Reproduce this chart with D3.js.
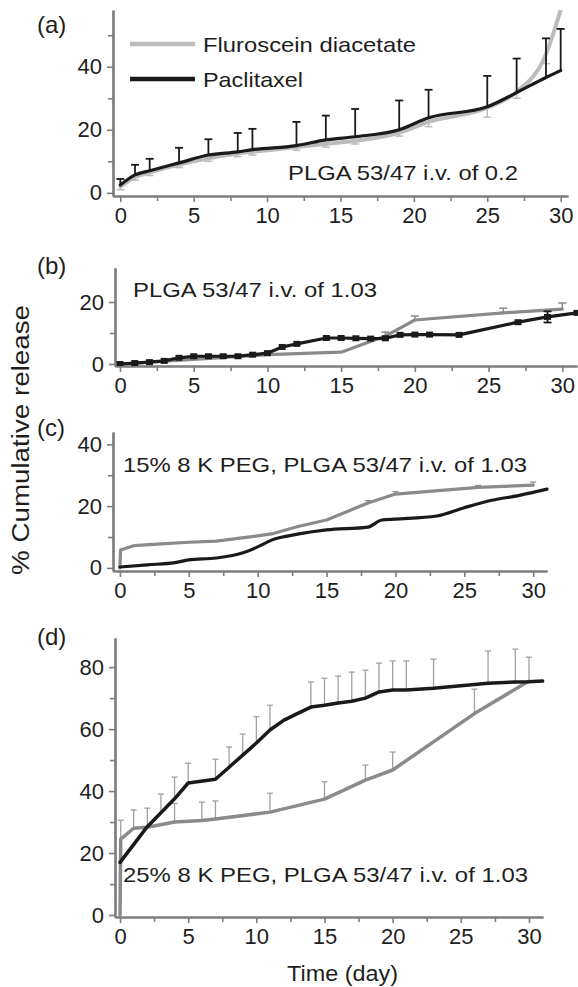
<!DOCTYPE html>
<html>
<head>
<meta charset="UTF-8">
<script src="https://d3js.org/d3.v7.min.js"></script>
<style>
  body { margin: 0; background: #fff; }
  svg { display: block; font-family: "Liberation Sans", Arial, sans-serif; }
</style>
</head>
<body>
<svg width="578" height="987"></svg>
<script>
// ---- data ----
const xMajor = [0, 5, 10, 15, 20, 25, 30];
const xMinor = [2.5, 7.5, 12.5, 17.5, 22.5, 27.5];

// (a) PLGA 53/47 i.v. 0.2
const aDays   = [0, 1, 2, 4, 6, 8, 9, 12, 14, 16, 19, 21, 25, 27, 29, 30];
const aPac    = [2.5, 5.7, 7, 9.5, 12, 13, 13.7, 15, 16.8, 17.8, 20, 23.8, 27.3, 31.8, 36.6, 38.8];
const aPacErr = [1.9, 3.2, 3.8, 4.8, 5, 6, 6.6, 7.5, 7.7, 8.8, 9.3, 8.9, 9.8, 10.8, 12.4, 13.2];
const aFlu    = [2, 5, 6.5, 9, 11, 12.5, 13, 14.5, 15.5, 16.5, 19, 22.5, 27, 32, 44, 58];
const aFluErr = [1, 1, 1, 1, 1, 1, 1, 1, 1, 1, 1, 1.5, 3, 2, 3, 0];

// (b) PLGA 53/47 i.v. 1.03
const bPacDays = [0, 1, 2, 3, 4, 5, 6, 7, 8, 9, 10, 11, 12, 14, 15, 16, 17, 18, 19, 20, 21, 23, 27, 29, 31];
const bPac     = [0, 0.3, 0.6, 1, 2, 2.5, 2.5, 2.5, 2.5, 3, 3.5, 5.5, 6.5, 8.4, 8.4, 8.3, 8.2, 8.3, 9.4, 9.5, 9.5, 9.4, 13.5, 15.2, 16.5];
const bPacErr  = [0, 0, 0, 0, 0, 0, 0, 0, 0, 0, 0, 0, 0, 0, 0, 0, 0, 0, 0, 0, 0, 0, 0, 1.8, 0];
const bFluDays = [0, 5, 10, 15, 18, 20, 26, 30];
const bFlu     = [0, 1.5, 3, 3.8, 9, 14.2, 16.5, 17.7];
const bFluErr  = [0, 0, 0, 0, 1.3, 1.3, 1.5, 2];

// (c) 15% 8K PEG
const cPacDays = [0, 2, 4, 5, 7, 9, 10, 11, 13, 15, 18, 19, 20, 23, 25, 27, 29, 31];
const cPac     = [0.3, 1, 1.7, 2.6, 3.2, 5, 6.8, 9, 11, 12.3, 13.2, 15.5, 15.8, 16.8, 19.5, 21.9, 23.5, 25.5];
const cFluDays = [0, 0.05, 1, 3, 5, 7, 9, 11, 13, 15, 18, 20, 26, 30];
const cFlu     = [0, 5.8, 7.2, 7.8, 8.3, 8.7, 9.8, 11, 13.5, 15.5, 21, 23.9, 26.1, 26.8];
const cFluErr  = [0, 0, 0, 0, 0, 0, 0, 0, 0, 0, 0.8, 0.8, 0.6, 1];

// (d) 25% 8K PEG
const dPacDays = [0, 2, 3, 4, 5, 7, 8, 9, 10, 11, 12, 13, 14, 15, 16, 17, 18, 19, 20, 21, 23, 27, 29, 30, 31];
const dPac     = [17, 28.5, 33, 37.5, 42.6, 43.8, 47.7, 51.6, 55.5, 59.7, 62.8, 65, 67.1, 67.7, 68.4, 69, 70, 72, 72.6, 72.6, 73.2, 74.8, 75.2, 75.3, 75.5];
const dPacErr  = [0, 6, 6, 7, 6.4, 6.5, 6.5, 6.8, 8.5, 8, 0, 0, 8.1, 8.7, 8.7, 9.4, 9, 9.3, 9.4, 9.4, 9.4, 10.4, 10.6, 7.9, 0];
const dFluDays = [0, 0.05, 1, 2, 4, 6, 7, 11, 15, 18, 20, 26, 30];
const dFlu     = [0, 24.5, 28, 28.3, 30, 30.5, 31, 33.2, 37.4, 43.5, 46.8, 65, 75.5];
const dFluErr  = [0, 6.1, 5.9, 0, 6, 5.9, 5.8, 6.1, 5.6, 4.9, 5.8, 7.9, 0];

// ---- drawing ----
const svg = d3.select("svg");
const AXIS = "#7d7d7d", BLACK = "#1a1a1a", GRAY_A = "#bcbcbc", GRAY = "#8a8a8a", TXT = "#1e1e1e";

function drawPanel(p) {
  const x = d3.scaleLinear().domain(p.xd).range(p.xr);
  const y = d3.scaleLinear().domain(p.yd).range(p.yr);
  const g = svg.append("g");
  const clipId = "clip-" + p.name;
  g.append("clipPath").attr("id", clipId).append("rect")
    .attr("x", p.xr[0]).attr("y", p.yr[1])
    .attr("width", p.xr[1] - p.xr[0] + 4).attr("height", p.yr[0] - p.yr[1]);

  // axes: minor ticks first, then major with labels
  const xa = g.append("g").attr("transform", `translate(0,${p.yr[0]})`);
  xa.append("g").call(d3.axisBottom(x).tickValues(xMinor).tickSize(5).tickFormat("").tickSizeOuter(0));
  xa.append("g").call(d3.axisBottom(x).tickValues(xMajor).tickSize(6).tickPadding(5).tickSizeOuter(0));
  const ya = g.append("g").attr("transform", `translate(${p.xr[0]},0)`);
  ya.append("g").call(d3.axisLeft(y).tickValues(p.yMinor).tickSize(5).tickFormat("").tickSizeOuter(0));
  ya.append("g").call(d3.axisLeft(y).tickValues(p.yMajor).tickSize(6).tickPadding(5).tickSizeOuter(0));
  g.selectAll(".domain").attr("stroke", AXIS).attr("stroke-width", 2.2);
  g.selectAll(".tick line").attr("stroke", AXIS).attr("stroke-width", 1.6);
  g.selectAll(".tick text").attr("fill", TXT).attr("font-size", 22)
    .attr("font-family", "Liberation Sans, Arial, sans-serif");

  const plot = g.append("g").attr("clip-path", `url(#${clipId})`);

  p.series.forEach(s => {
    const pts = s.days.map((d, i) => ({ d, v: s.vals[i], e: s.errs ? s.errs[i] : 0 }));
    // error bars
    const eb = plot.append("g").attr("stroke", s.errColor).attr("stroke-width", s.errWidth);
    pts.filter(q => q.e > 0).forEach(q => {
      const dirs = s.errDir === "both" ? [1, -1] : [s.errDir === "down" ? -1 : 1];
      dirs.forEach(k => {
        const y2 = y(q.v + k * q.e);
        eb.append("line").attr("x1", x(q.d)).attr("x2", x(q.d)).attr("y1", y(q.v)).attr("y2", y2);
        eb.append("line").attr("x1", x(q.d) - s.cap).attr("x2", x(q.d) + s.cap).attr("y1", y2).attr("y2", y2);
      });
    });
    const line = d3.line().x(q => x(q.d)).y(q => y(q.v)).curve(s.curve || d3.curveLinear);
    plot.append("path").datum(pts).attr("d", line)
      .attr("fill", "none").attr("stroke", s.color).attr("stroke-width", s.width)
      .attr("stroke-linejoin", "round").attr("stroke-linecap", "round");
    if (s.markers) {
      plot.selectAll(null).data(pts).join("rect")
        .attr("x", q => x(q.d) - 3.5).attr("y", q => y(q.v) - 3)
        .attr("width", 7).attr("height", 6).attr("fill", s.color);
    }
  });
  return { x, y, g };
}

function label(txt, xx, yy, size, len) {
  const t = svg.append("text").attr("x", xx).attr("y", yy).attr("font-size", size)
    .attr("fill", TXT).text(txt);
  if (len) t.attr("textLength", len).attr("lengthAdjust", "spacingAndGlyphs");
  return t;
}

// (a)
drawPanel({
  name: "a", xd: [-0.5, 30.5], xr: [113, 568], yd: [-1, 58], yr: [196, 10],
  yMajor: [0, 20, 40], yMinor: [10, 30, 50],
  series: [
    { days: aDays, vals: aFlu, errs: aFluErr, errDir: "down", errColor: GRAY_A, errWidth: 1.5, cap: 4,
      color: GRAY_A, width: 4, curve: d3.curveMonotoneX },
    { days: aDays, vals: aPac, errs: aPacErr, errDir: "up", errColor: BLACK, errWidth: 1.8, cap: 4,
      color: BLACK, width: 3.2, curve: d3.curveMonotoneX }
  ]
});
// legend
svg.append("line").attr("x1", 130).attr("x2", 195).attr("y1", 44).attr("y2", 44)
  .attr("stroke", GRAY_A).attr("stroke-width", 4.5);
svg.append("line").attr("x1", 130).attr("x2", 195).attr("y1", 79).attr("y2", 79)
  .attr("stroke", BLACK).attr("stroke-width", 4.5);
label("Fluroscein diacetate", 203, 52, 21, 213);
label("Paclitaxel", 203, 87, 21, 100);
label("PLGA 53/47 i.v. of 0.2", 288, 180, 21, 230);

// (b)
drawPanel({
  name: "b", xd: [-0.34, 31], xr: [115, 577], yd: [-0.65, 31], yr: [366, 268],
  yMajor: [0, 20], yMinor: [10],
  series: [
    { days: bFluDays, vals: bFlu, errs: bFluErr, errDir: "up", errColor: GRAY, errWidth: 1.5, cap: 4,
      color: GRAY, width: 3.2 },
    { days: bPacDays, vals: bPac, errs: bPacErr, errDir: "both", errColor: BLACK, errWidth: 1.8, cap: 4,
      color: BLACK, width: 3.2, markers: true }
  ]
});
label("PLGA 53/47 i.v. of 1.03", 133, 297, 21, 244);

// (c)
drawPanel({
  name: "c", xd: [-0.5, 31], xr: [113, 547], yd: [-1, 44], yr: [571, 432],
  yMajor: [0, 20, 40], yMinor: [10, 30],
  series: [
    { days: cFluDays, vals: cFlu, errs: cFluErr, errDir: "up", errColor: GRAY, errWidth: 1.2, cap: 3,
      color: GRAY, width: 3.2 },
    { days: cPacDays, vals: cPac, errs: null, errDir: "up", errColor: BLACK, errWidth: 1.5, cap: 3,
      color: BLACK, width: 3.2, curve: d3.curveMonotoneX }
  ]
});
label("15% 8 K PEG, PLGA 53/47 i.v. of 1.03", 123, 472, 21, 404);

// (d)
drawPanel({
  name: "d", xd: [-0.37, 31.03], xr: [115, 543], yd: [-0.65, 89.4], yr: [917, 638],
  yMajor: [0, 20, 40, 60, 80], yMinor: [10, 30, 50, 70],
  series: [
    { days: dFluDays, vals: dFlu, errs: dFluErr, errDir: "up", errColor: "#a0a0a0", errWidth: 1.3, cap: 3,
      color: GRAY, width: 3.5 },
    { days: dPacDays, vals: dPac, errs: dPacErr, errDir: "up", errColor: "#a0a0a0", errWidth: 1.3, cap: 3,
      color: BLACK, width: 3.5 }
  ]
});
label("25% 8 K PEG, PLGA 53/47 i.v. of 1.03", 123, 882, 21, 405);

// panel letters
label("(a)", 37, 33, 24);
label("(b)", 37, 274, 24);
label("(c)", 37, 436, 24);
label("(d)", 37, 645, 24);

// axis titles
svg.append("text").attr("transform", "translate(29,440) rotate(-90)")
  .attr("text-anchor", "middle").attr("font-size", 23).attr("fill", TXT)
  .attr("textLength", 270).attr("lengthAdjust", "spacingAndGlyphs")
  .text("% Cumulative release");
label("Time (day)", 287, 981, 22, 111);
</script>
</body>
</html>
